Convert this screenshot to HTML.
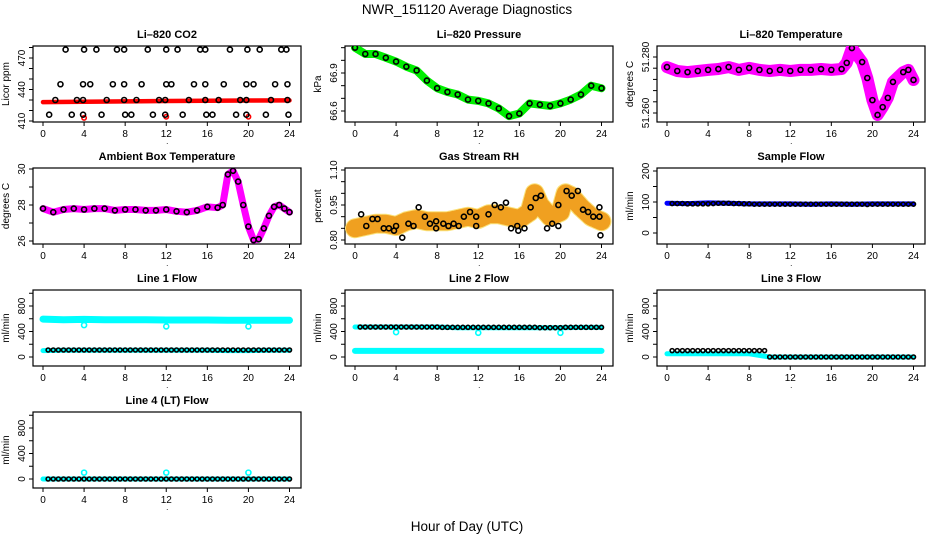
<!DOCTYPE html>
<html><head><meta charset="utf-8"><style>
html,body{margin:0;padding:0;background:#fff;}
svg{display:block;font-family:"Liberation Sans",Arial,sans-serif;}
</style></head><body>
<svg id="chart" width="936" height="540" viewBox="0 0 936 540">
<text x="467" y="14" text-anchor="middle" font-size="13.5">NWR_151120  Average Diagnostics</text>
<text x="467" y="531" text-anchor="middle" font-size="13.5">Hour of Day (UTC)</text>
</svg>
<script>
// ---- data arrays ----
const X_TICKS = [0,4,8,12,16,20,24];
const HALF_HOURS = [0.5,1,1.5,2,2.5,3,3.5,4,4.5,5,5.5,6,6.5,7,7.5,8,8.5,9,9.5,10,10.5,11,11.5,12,12.5,13,13.5,14,14.5,15,15.5,16,16.5,17,17.5,18,18.5,19,19.5,20,20.5,21,21.5,22,22.5,23,23.5,24];
const OUTLIER_HOURS = [4,12,20];

// CO2
const CO2_RED_HOURS = [0,4,8,12,16,20,24];
const CO2_RED_VALUES = [428,428.3,428.7,429,429.3,429.5,429.6];
const CO2_RED_OUT = [413,414,414];
const CO2_HI_HOURS = [2.2,4.0,5.2,7.2,7.9,10.2,12.0,13.1,15.3,15.8,18.2,19.9,21.1,23.2,23.7];
const CO2_HI_VALUES = [478,478,478,478,478,478,478,478,478,478,478,478,478,478,478];
const CO2_M2_HOURS = [1.7,3.9,4.6,6.8,7.9,9.6,12.0,12.5,14.7,15.8,17.6,19.8,20.5,22.6,23.8];
const CO2_M2_VALUES = [445,445,445,445,445,445,445,445,445,445,445,445,445,445,445];
const CO2_M1_HOURS = [1.2,3.3,3.9,6.2,7.9,9.1,11.3,11.9,14.2,15.8,17.1,19.2,19.8,22.2,23.8];
const CO2_M1_VALUES = [430,430,430,430,430,430,430,430,430,430,430,430,430,430,430];
const CO2_LO_HOURS = [0.6,2.8,3.9,5.7,8.0,8.6,10.7,11.9,13.6,15.9,16.5,18.8,19.8,21.7,23.9];
const CO2_LO_VALUES = [416,416,416,416,416,416,416,416,416,416,416,416,416,416,416];

// Pressure
const P_HOURS = [0,1,2,3,4,5,6,7,8,9,10,11,12,13,14,15,16,17,18,19,20,21,22,23,24];
const P_VALUES = [67.10,67.05,67.05,67.02,66.99,66.95,66.92,66.84,66.78,66.75,66.73,66.69,66.68,66.66,66.62,66.56,66.58,66.66,66.65,66.64,66.66,66.69,66.73,66.80,66.78];

// Li-820 temperature
const T_HOURS = [0,1,2,3,4,5,6,7,8,9,10,11,12,13,14,15,16,17,17.5,18,19,19.5,20,20.5,21,21.5,22,23,23.5,24];
const T_VALUES = [51.2764,51.2750,51.2746,51.2750,51.2754,51.2757,51.2764,51.2754,51.2761,51.2754,51.2750,51.2754,51.2750,51.2754,51.2754,51.2757,51.2754,51.2757,51.2779,51.2832,51.2782,51.2725,51.2646,51.2593,51.2621,51.2654,51.2711,51.2746,51.2754,51.2718];

// Ambient box temperature
const A_HOURS = [0,1,2,3,4,5,6,7,8,9,10,11,12,13,14,15,16,17,17.5,18,18.5,19,19.5,20,20.5,21,21.5,22,22.5,23,23.5,24];
const A_VALUES = [27.8,27.6,27.75,27.8,27.75,27.8,27.8,27.7,27.75,27.75,27.7,27.7,27.75,27.65,27.6,27.7,27.9,27.85,28.0,29.7,29.9,29.3,28.0,26.8,26.05,26.1,26.7,27.4,27.9,28.0,27.8,27.6];

// Gas stream RH
const RH_HOURS = [0,1,2,3,4,5,6,7,8,9,10,11,12,13,14,15,16,17,17.5,18,19,20,20.5,21,22,23,24];
const RH_VALUES = [0.85,0.86,0.87,0.87,0.86,0.88,0.89,0.88,0.88,0.88,0.89,0.90,0.89,0.91,0.91,0.90,0.89,0.92,1.00,0.95,0.90,0.92,1.00,0.99,0.94,0.90,0.88];
const RH_PT_HOURS = [0.6,1.1,1.7,2.2,2.8,3.3,3.8,4.0,4.6,5.2,5.7,6.2,6.8,7.3,7.9,7.9,8.6,9.1,9.6,10.1,10.6,11.2,11.8,11.8,13.0,13.6,14.2,14.7,15.2,15.8,15.9,16.5,17.1,17.6,18.1,18.7,19.2,19.8,19.8,20.6,21.1,21.7,22.2,22.7,23.2,23.8,23.8,23.9];
const RH_PT_VALUES = [0.91,0.86,0.89,0.89,0.85,0.85,0.84,0.86,0.81,0.87,0.86,0.94,0.90,0.87,0.85,0.88,0.87,0.86,0.87,0.86,0.90,0.92,0.86,0.90,0.91,0.95,0.94,0.96,0.85,0.86,0.84,0.85,0.94,0.98,0.99,0.85,0.87,0.86,0.95,1.01,0.99,1.01,0.93,0.92,0.90,0.90,0.94,0.82];

// Flows (band values at F_HOURS)
const F_HOURS = [0,2,4,6,8,10,12,14,16,18,20,22,24];
const SAMPLE_BAND = [96,95,97,96,94,94,94,93,94,93,94,94,94];
const SAMPLE_PTS = [95,95,95,94,94,94,94,94,95,96,96,96,95,95,94,94,93,93,93,93,93,93,93,93,93,93,93,93,93,93,93,93,93,93,93,93,93,93,92,93,93,93,93,93,93,93,93,93];
const L1_HIGH_BAND = [595,585,590,585,585,585,580,580,580,575,575,575,575];
const L1_LOW_BAND = [100,105,105,105,105,105,105,105,105,100,100,105,105];
const L1_PTS = [110,110,110,110,110,110,110,110,110,110,110,110,110,110,110,110,110,110,110,110,110,110,110,110,110,110,110,110,110,110,110,110,110,110,110,110,110,110,110,110,110,110,110,110,110,110,110,110];
const L1_OUT = [500,480,480];
const L2_HIGH_BAND = [470,470,470,470,470,460,460,460,460,460,460,465,465];
const L2_LOW_BAND = [95,95,95,95,95,95,95,95,95,95,95,95,95];
const L2_PTS = [470,470,470,470,470,470,470,470,470,470,470,470,470,470,470,470,465,465,465,465,465,465,465,465,465,465,465,465,465,465,465,465,465,465,465,460,460,460,460,460,465,465,465,465,465,465,465,465];
const L2_OUT = [390,380,380];
const L3_BAND = [50,50,50,50,50,0,0,0,0,0,0,0,0];
const L3_PTS = [100,100,100,100,100,100,100,100,100,100,100,100,100,100,100,100,100,100,100,0,0,0,0,0,0,0,0,0,0,0,0,0,0,0,0,0,0,0,0,0,0,0,0,0,0,0,0,0];
const L4_BAND = [0,0,0,0,0,0,0,0,0,0,0,0,0];
const L4_PTS = [0,0,0,0,0,0,0,0,0,0,0,0,0,0,0,0,0,0,0,0,0,0,0,0,0,0,0,0,0,0,0,0,0,0,0,0,0,0,0,0,0,0,0,0,0,0,0,0];
const L4_OUT = [100,100,100];

// ---- drawing ----
const NS = 'http://www.w3.org/2000/svg';
const svg = document.getElementById('chart');
function mk(tag, attrs, parent){
  const e = document.createElementNS(NS, tag);
  for (const k in attrs) e.setAttribute(k, attrs[k]);
  (parent||svg).appendChild(e);
  return e;
}
const COLX = [33,345,657];
const ROWY = [46,168,290,412];
const W = 268, H = 76;

function panel(col,row,title,ylab,v1,o1,v2,o2,ticks,labels,name){
  const bx = COLX[col], by = ROWY[row];
  const g = mk('g',{});
  
  
  const xs = h => bx + 10 + h*(246.5/24);
  const ys = v => by + o1 + (v - v1)*(o2 - o1)/(v2 - v1);
  const t = mk('text',{x:bx+W/2,y:by-8,'text-anchor':'middle','font-size':'11','font-weight':'bold'},g);
  t.textContent = title;
  
  
  const box = mk('rect',{x:bx,y:by,width:W,height:H,fill:'none',stroke:'#000','stroke-width':1.2},g);
  
  
  const xa = mk('g',{},g);
  
  
  X_TICKS.forEach(h=>{
    mk('line',{x1:xs(h),x2:xs(h),y1:by+H,y2:by+H+4,stroke:'#000'},xa);
    const l = mk('text',{x:xs(h),y:by+H+15,'text-anchor':'middle','font-size':'10'},xa);
    l.textContent = h;
  });
  mk('text',{x:xs(12)+1,y:by+H+22,'text-anchor':'middle','font-size':'8'},xa).textContent='.';
  const ya = mk('g',{},g);
  
  
  ticks.forEach(v=>{
    const y = ys(v);
    if (y < by-1 || y > by+H+1) return;
    mk('line',{x1:bx-4,x2:bx,y1:y,y2:y,stroke:'#000'},ya);
  });
  labels.forEach(([v,s])=>{
    const y = ys(v);
    const l = mk('text',{x:bx-8,y:y,'text-anchor':'middle','font-size':'10',transform:`rotate(-90 ${bx-8} ${y})`},ya);
    l.textContent = s;
  });
  const yl = mk('text',{x:bx-24,y:by+H/2,'text-anchor':'middle','font-size':'10',transform:`rotate(-90 ${bx-24} ${by+H/2})`},g);
  yl.textContent = ylab;
  
  
  const clip = 'clip-'+name;
  const cp = mk('clipPath',{id:clip},g);
  mk('rect',{x:bx,y:by,width:W,height:H},cp);
  const plot = mk('g',{'clip-path':`url(#${clip})`},g);
  return {xs,ys,g:plot};
}
function band(p,hours,vals,color,width,name,dash){
  const pts = hours.map((h,i)=>p.xs(h).toFixed(1)+','+p.ys(vals[i]).toFixed(1)).join(' ');
  const a = {points:pts,fill:'none',stroke:color,'stroke-width':width,'stroke-linejoin':'round','stroke-linecap':'round'};
  if (dash) a['stroke-dasharray'] = dash;
  const e = mk('polyline',a,p.g);
  
  
}
function circles(p,hours,vals,color,r,name){
  hours.forEach((h,i)=>{
    const c = mk('circle',{cx:p.xs(h),cy:p.ys(vals[i]),r:r,fill:'none',stroke:color,'stroke-width':1.6},p.g);
    
    
  });
}
const FLOW_TICKS = [0,200,400,600,800,1000];
const FLOW_LABELS = [[0,'0'],[400,'400'],[800,'800']];

let p = panel(0,0,'Li\u2013820 CO2','Licor ppm',410,75,470,12,[410,420,430,440,450,460,470,480],[[410,'410'],[440,'440'],[470,'470']],'co2');
band(p,CO2_RED_HOURS,CO2_RED_VALUES,'#ff0000',4.5,'co2-red-band');
circles(p,OUTLIER_HOURS,CO2_RED_OUT,'#ff0000',2.2,'co2-red-point');
circles(p,CO2_HI_HOURS,CO2_HI_VALUES,'#000',2.5,'co2-point');
circles(p,CO2_M2_HOURS,CO2_M2_VALUES,'#000',2.5,'co2-point');
circles(p,CO2_M1_HOURS,CO2_M1_VALUES,'#000',2.5,'co2-point');
circles(p,CO2_LO_HOURS,CO2_LO_VALUES,'#000',2.5,'co2-point');

p = panel(1,0,'Li\u2013820 Pressure','kPa',66.6,65,66.9,27,[66.6,66.7,66.8,66.9,67.0,67.1],[[66.6,'66.6'],[66.9,'66.9']],'pressure');
band(p,P_HOURS,P_VALUES,'#00ee00',8,'pressure-band');
circles(p,P_HOURS,P_VALUES,'#000',2.5,'pressure-point');

p = panel(2,0,'Li\u2013820 Temperature','degrees C',51.26,67,51.28,11,[51.26,51.264,51.268,51.272,51.276,51.28],[[51.26,'51.260'],[51.28,'51.280']],'li820-temp');
band(p,T_HOURS,T_VALUES,'#ff00ff',12,'li820-temp-band');
circles(p,T_HOURS,T_VALUES,'#000',2.5,'li820-temp-point');

p = panel(0,1,'Ambient Box Temperature','degrees C',26,73,30,1,[26,27,28,29,30],[[26,'26'],[28,'28'],[30,'30']],'ambient');
band(p,A_HOURS,A_VALUES,'#ff00ff',7,'ambient-band');
circles(p,A_HOURS,A_VALUES,'#000',2.5,'ambient-point');

p = panel(1,1,'Gas Stream RH','percent',0.8,72,1.1,2,[0.8,0.85,0.9,0.95,1.0,1.05,1.1],[[0.8,'0.80'],[0.95,'0.95'],[1.1,'1.10']],'rh');
band(p,RH_HOURS,RH_VALUES,'#fbe27a',20,'rh-band');
band(p,RH_HOURS,RH_VALUES,'#f0a020',18,'rh-band-dots','2 2');
circles(p,RH_PT_HOURS,RH_PT_VALUES,'#000',2.5,'rh-point');

p = panel(2,1,'Sample Flow','ml/min',0,65,200,3,[0,50,100,150,200],[[0,'0'],[100,'100'],[200,'200']],'sample-flow');
band(p,F_HOURS,SAMPLE_BAND,'#0000ff',5,'sample-flow-band');
circles(p,HALF_HOURS,SAMPLE_PTS,'#000',2,'sample-flow-point');

p = panel(0,2,'Line 1 Flow','ml/min',0,67,800,16,FLOW_TICKS,FLOW_LABELS,'line1-flow');
band(p,F_HOURS,L1_HIGH_BAND,'#00ffff',7,'line1-high-band');
band(p,F_HOURS,L1_LOW_BAND,'#00ffff',5,'line1-low-band');
circles(p,OUTLIER_HOURS,L1_OUT,'#00ffff',2.5,'line1-outlier');
circles(p,HALF_HOURS,L1_PTS,'#000',2,'line1-point');

p = panel(1,2,'Line 2 Flow','ml/min',0,67,800,16,FLOW_TICKS,FLOW_LABELS,'line2-flow');
band(p,F_HOURS,L2_LOW_BAND,'#00ffff',6,'line2-low-band');
band(p,F_HOURS,L2_HIGH_BAND,'#00ffff',5,'line2-high-band');
circles(p,OUTLIER_HOURS,L2_OUT,'#00ffff',2.5,'line2-outlier');
circles(p,HALF_HOURS,L2_PTS,'#000',2,'line2-point');

p = panel(2,2,'Line 3 Flow','ml/min',0,67,800,16,FLOW_TICKS,FLOW_LABELS,'line3-flow');
band(p,F_HOURS,L3_BAND,'#00ffff',5,'line3-band');
circles(p,HALF_HOURS,L3_PTS,'#000',2,'line3-point');

p = panel(0,3,'Line 4 (LT) Flow','ml/min',0,67,800,16,FLOW_TICKS,FLOW_LABELS,'line4-flow');
band(p,F_HOURS,L4_BAND,'#00ffff',5,'line4-band');
circles(p,OUTLIER_HOURS,L4_OUT,'#00ffff',2.5,'line4-outlier');
circles(p,HALF_HOURS,L4_PTS,'#000',2,'line4-point');
</script>
</body></html>
